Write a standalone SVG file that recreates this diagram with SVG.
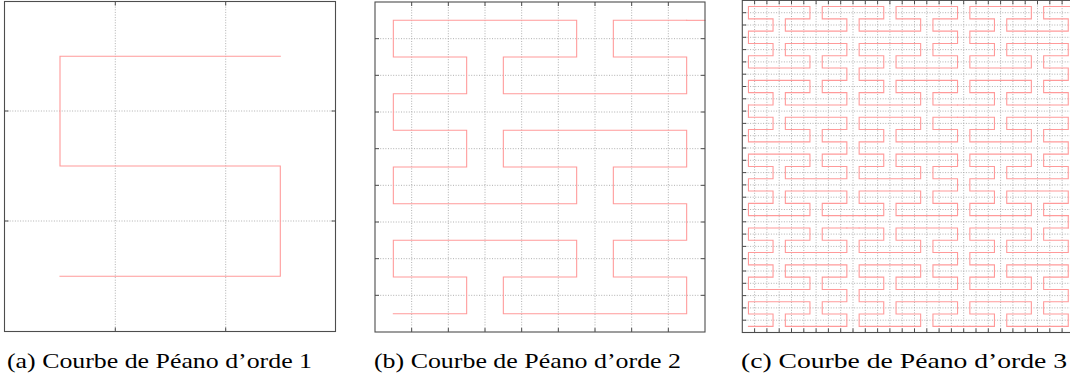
<svg xmlns="http://www.w3.org/2000/svg" xmlns:xlink="http://www.w3.org/1999/xlink" width="1070" height="387" viewBox="0 0 1070 387">
<style>
.bg{fill:#ffffff}
.frame{fill:none;stroke:#4d4d4d;stroke-width:1.1}
.tick{fill:none;stroke:#4d4d4d;stroke-width:1}
.grid{fill:none;stroke:#a8a8a8;stroke-width:0.9;stroke-dasharray:1 1.6}
.curve{fill:none;stroke:#ff9a9a;stroke-linejoin:miter;stroke-linecap:square}
.cap{font-family:"Liberation Serif","DejaVu Serif",serif;font-size:22px;fill:#000}
</style>
<defs>
<path id="p2" d="M0 0H2V1H0V2H5V1H3V0H8V1H6V2H8V3H6V4H8V5H3V4H5V3H0V4H2V5H0V6H2V7H0V8H5V7H3V6H8V7H6V8H8"/>
</defs>
<rect class="bg" x="0" y="0" width="1070" height="387"/>

<g id="panel-a">
<path class="grid" d="M115.3 1.5V331.5M225.7 1.5V331.5M4.5 111H335.5M4.5 221H335.5"/>
<path class="curve" stroke-width="1.1" d="M60 276.3H280.3V166H60V56.3H280.3"/>
<rect class="frame" x="4.5" y="1.5" width="331" height="330"/>
<path class="tick" d="M115.3 1.5v4M225.7 1.5v4M115.3 331.5v-4M225.7 331.5v-4M4.5 111h4M4.5 221h4M335.5 111h-4M335.5 221h-4"/>
</g>

<g id="panel-b">
<path class="grid" d="M411.67 2V332M448.33 2V332M485 2V332M521.67 2V332M558.33 2V332M595 2V332M631.67 2V332M668.33 2V332M375 38.67H705M375 75.33H705M375 112H705M375 148.67H705M375 185.33H705M375 222H705M375 258.67H705M375 295.33H705"/>
<g class="curve" stroke-width="0.0294" transform="translate(393.333 313.667) scale(36.667 -36.667)">
<use xlink:href="#p2" href="#p2"/>
<path d="M8 8H8.5"/>
</g>
<rect class="frame" x="375" y="2" width="330" height="330"/>
<path class="tick" d="M411.67 2v4M448.33 2v4M485 2v4M521.67 2v4M558.33 2v4M595 2v4M631.67 2v4M668.33 2v4M411.67 332v-4M448.33 332v-4M485 332v-4M521.67 332v-4M558.33 332v-4M595 332v-4M631.67 332v-4M668.33 332v-4M375 38.67h4M375 75.33h4M375 112h4M375 148.67h4M375 185.33h4M375 222h4M375 258.67h4M375 295.33h4M705 38.67h-4M705 75.33h-4M705 112h-4M705 148.67h-4M705 185.33h-4M705 222h-4M705 258.67h-4M705 295.33h-4"/>
</g>

<g id="panel-c">
<path class="grid" d="M754.6 0.4V332.5M766.9 0.4V332.5M779.2 0.4V332.5M791.5 0.4V332.5M803.8 0.4V332.5M816.1 0.4V332.5M828.4 0.4V332.5M840.7 0.4V332.5M853 0.4V332.5M865.3 0.4V332.5M877.6 0.4V332.5M889.9 0.4V332.5M902.2 0.4V332.5M914.5 0.4V332.5M926.8 0.4V332.5M939.1 0.4V332.5M951.4 0.4V332.5M963.7 0.4V332.5M976 0.4V332.5M988.3 0.4V332.5M1000.6 0.4V332.5M1012.9 0.4V332.5M1025.2 0.4V332.5M1037.5 0.4V332.5M1049.8 0.4V332.5M1062.1 0.4V332.5M742.3 12.7H1074.4M742.3 25H1074.4M742.3 37.3H1074.4M742.3 49.6H1074.4M742.3 61.9H1074.4M742.3 74.2H1074.4M742.3 86.5H1074.4M742.3 98.8H1074.4M742.3 111.1H1074.4M742.3 123.4H1074.4M742.3 135.7H1074.4M742.3 148H1074.4M742.3 160.3H1074.4M742.3 172.6H1074.4M742.3 184.9H1074.4M742.3 197.2H1074.4M742.3 209.5H1074.4M742.3 221.8H1074.4M742.3 234.1H1074.4M742.3 246.4H1074.4M742.3 258.7H1074.4M742.3 271H1074.4M742.3 283.3H1074.4M742.3 295.6H1074.4M742.3 307.9H1074.4M742.3 320.2H1074.4"/>
<g class="curve" stroke-width="0.0894" transform="translate(748.45 326.35) scale(12.3 -12.3)">
<use xlink:href="#p2" href="#p2"/>
<use xlink:href="#p2" href="#p2" transform="translate(9 8) scale(1 -1)"/>
<use xlink:href="#p2" href="#p2" transform="translate(18 0)"/>
<use xlink:href="#p2" href="#p2" transform="translate(26 9) scale(-1 1)"/>
<use xlink:href="#p2" href="#p2" transform="translate(17 17) scale(-1 -1)"/>
<use xlink:href="#p2" href="#p2" transform="translate(8 9) scale(-1 1)"/>
<use xlink:href="#p2" href="#p2" transform="translate(0 18)"/>
<use xlink:href="#p2" href="#p2" transform="translate(9 26) scale(1 -1)"/>
<use xlink:href="#p2" href="#p2" transform="translate(18 18)"/>
<path d="M8 8H9M17 0H18M26 8V9M18 17H17M9 9H8M0 17V18M8 26H9M17 18H18M26 26H26.5"/>
</g>
<rect class="frame" x="742.3" y="0.4" width="332.1" height="332.1"/>
<path class="tick" d="M754.6 0.4v4M766.9 0.4v4M779.2 0.4v4M791.5 0.4v4M803.8 0.4v4M816.1 0.4v4M828.4 0.4v4M840.7 0.4v4M853 0.4v4M865.3 0.4v4M877.6 0.4v4M889.9 0.4v4M902.2 0.4v4M914.5 0.4v4M926.8 0.4v4M939.1 0.4v4M951.4 0.4v4M963.7 0.4v4M976 0.4v4M988.3 0.4v4M1000.6 0.4v4M1012.9 0.4v4M1025.2 0.4v4M1037.5 0.4v4M1049.8 0.4v4M1062.1 0.4v4M754.6 332.5v-4M766.9 332.5v-4M779.2 332.5v-4M791.5 332.5v-4M803.8 332.5v-4M816.1 332.5v-4M828.4 332.5v-4M840.7 332.5v-4M853 332.5v-4M865.3 332.5v-4M877.6 332.5v-4M889.9 332.5v-4M902.2 332.5v-4M914.5 332.5v-4M926.8 332.5v-4M939.1 332.5v-4M951.4 332.5v-4M963.7 332.5v-4M976 332.5v-4M988.3 332.5v-4M1000.6 332.5v-4M1012.9 332.5v-4M1025.2 332.5v-4M1037.5 332.5v-4M1049.8 332.5v-4M1062.1 332.5v-4M742.3 12.7h4M742.3 25h4M742.3 37.3h4M742.3 49.6h4M742.3 61.9h4M742.3 74.2h4M742.3 86.5h4M742.3 98.8h4M742.3 111.1h4M742.3 123.4h4M742.3 135.7h4M742.3 148h4M742.3 160.3h4M742.3 172.6h4M742.3 184.9h4M742.3 197.2h4M742.3 209.5h4M742.3 221.8h4M742.3 234.1h4M742.3 246.4h4M742.3 258.7h4M742.3 271h4M742.3 283.3h4M742.3 295.6h4M742.3 307.9h4M742.3 320.2h4"/>
</g>

<g id="captions">
<text class="cap" x="7" y="368" textLength="305" lengthAdjust="spacingAndGlyphs">(a) Courbe de Péano d’orde 1</text>
<text class="cap" x="374" y="368" textLength="307" lengthAdjust="spacingAndGlyphs">(b) Courbe de Péano d’orde 2</text>
<text class="cap" x="741" y="368" textLength="326" lengthAdjust="spacingAndGlyphs">(c) Courbe de Péano d’orde 3</text>
</g>
</svg>
